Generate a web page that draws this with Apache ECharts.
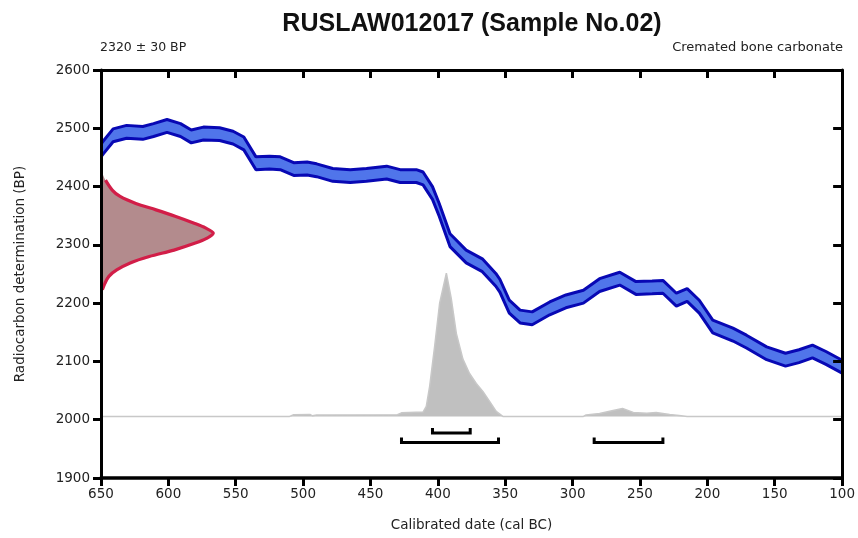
<!DOCTYPE html>
<html><head><meta charset="utf-8">
<script src="https://cdn.jsdelivr.net/npm/echarts@6/dist/echarts.min.js"></script>
<style>html,body{margin:0;padding:0;background:#fff}#c{width:858px;height:538px}</style>
</head><body><div id="c"></div>
<script>
// ---- data ----
const xTickValues = [650, 600, 550, 500, 450, 400, 350, 300, 250, 200, 150, 100];
const yTickValues = [2600, 2500, 2400, 2300, 2200, 2100, 2000, 1900];

// calibration curve centre (cal BC, BP)
const curveYears = [650, 648, 641, 631, 619, 611, 601, 591, 583, 574, 562, 552, 544, 535, 525, 517, 507, 497, 490, 478, 465, 453, 438, 428, 416, 411, 404, 399, 391, 379, 367, 357, 354, 347, 339, 330, 317, 305, 292, 280, 265, 253, 241, 233, 223, 215, 206, 196, 181, 171, 156, 142, 132, 122, 112, 100];
const curveBP    = [2462, 2468, 2488, 2494, 2492, 2497, 2504, 2497, 2486, 2491, 2490, 2484, 2474, 2440, 2441, 2440, 2430, 2431, 2428, 2420, 2418, 2420, 2424, 2418, 2418, 2414, 2389, 2360, 2308, 2280, 2265, 2240, 2230, 2194, 2177, 2174, 2191, 2203, 2211, 2231, 2242, 2226, 2227, 2228, 2206, 2214, 2194, 2160, 2146, 2134, 2114, 2103, 2109, 2117, 2106, 2091];
const curveSigma = 11;

// radiocarbon determination 2320 ± 30 BP (relative density)
const gaussBP      = [2425, 2411, 2394, 2383, 2371, 2360, 2349, 2337, 2329, 2320, 2311, 2303, 2291, 2280, 2269, 2257, 2246, 2234, 2223, 2215];
const gaussDensity = [0,    0.04, 0.10, 0.17, 0.31, 0.49, 0.66, 0.83, 0.93, 1.00, 0.94, 0.84, 0.65, 0.43, 0.26, 0.14, 0.07, 0.035, 0.012, 0];

// calibrated probability (relative)
const probYears  = [650, 510, 507, 495, 493, 490, 430, 427, 411, 408.6, 406.1, 402.4, 398.7, 393.7, 390, 386.3, 381.4, 376.5, 371.5, 366.6, 361.6, 356.7, 351.8, 292, 290, 280, 270, 263, 255, 245, 238, 228, 221, 215, 100];
const probValues = [0,   0,   0.012, 0.014, 0.004, 0.01, 0.012, 0.025, 0.03, 0.07, 0.21, 0.49, 0.79, 1.0, 0.82, 0.58, 0.40, 0.30, 0.23, 0.175, 0.105, 0.035, 0, 0, 0.01, 0.021, 0.042, 0.056, 0.028, 0.023, 0.028, 0.014, 0.007, 0, 0];

// ranges (cal BC)
const range68 = [[404, 376]];
const range95 = [[427, 355], [284, 233]];

// ---- layout / style ----
const FONT = "'Liberation Sans', Arial, sans-serif";
const FONT2 = "'DejaVu Sans', 'Liberation Sans', sans-serif";
const RANGE_LEVEL = {r68: 1977, r95: 1961};
const BLUE_LINE = '#0808b4', BLUE_FILL = '#5075ea';

const xMin = Math.min(...xTickValues), xMax = Math.max(...xTickValues), xInt = xTickValues[0] - xTickValues[1];
const yMin = Math.min(...yTickValues), yMax = Math.max(...yTickValues), yInt = yTickValues[0] - yTickValues[1];

const upper = curveYears.map((x, i) => [x, curveBP[i] + curveSigma]);
const lower = curveYears.map((x, i) => [x, curveBP[i] - curveSigma]);
const rangeData = range68.map(r => [r[0], r[1], RANGE_LEVEL.r68]).concat(range95.map(r => [r[0], r[1], RANGE_LEVEL.r95]));

const chart = echarts.init(document.getElementById('c'), null, {renderer: 'canvas'});
chart.setOption({
  animation: false,
  backgroundColor: '#fff',
  title: [
    {text: 'RUSLAW012017 (Sample No.02)', left: 467, top: 7, textAlign: 'center',
     textStyle: {fontFamily: FONT, fontSize: 25, fontWeight: 'bold', color: '#111'}},
    {text: '2320 ± 30 BP', left: 95, top: 36,
     textStyle: {fontFamily: FONT2, fontSize: 12.5, fontWeight: 'normal', color: '#222'}},
    {text: 'Cremated bone carbonate', right: 10, top: 36,
     textStyle: {fontFamily: FONT2, fontSize: 13, fontWeight: 'normal', color: '#222'}}
  ],
  grid: {left: 101, right: 15, top: 70, bottom: 60, containLabel: false},
  xAxis: [
    {type: 'value', min: xMin, max: xMax, interval: xInt, inverse: true, position: 'bottom', z: 5,
     name: 'Calibrated date (cal BC)', nameLocation: 'middle', nameGap: 40,
     nameTextStyle: {fontFamily: FONT2, fontSize: 13.5, color: '#222'},
     axisLine: {onZero: false, lineStyle: {color: '#000', width: 3.5}},
     axisTick: {inside: false, length: 8, lineStyle: {color: '#000', width: 3}},
     axisLabel: {margin: 9, fontFamily: FONT2, fontSize: 13.5, color: '#222', formatter: v => String(v)},
     splitLine: {show: false}},
    {type: 'value', min: xMin, max: xMax, interval: xInt, inverse: true, position: 'top', z: 5,
     axisLine: {onZero: false, lineStyle: {color: '#000', width: 3}},
     axisTick: {inside: true, length: 8, lineStyle: {color: '#000', width: 3}},
     axisLabel: {show: false}, splitLine: {show: false}},
    {type: 'value', min: 0, max: 6.6, show: false, position: 'top',
     axisLine: {onZero: false}, splitLine: {show: false}}
  ],
  yAxis: [
    {type: 'value', min: yMin, max: yMax, interval: yInt, position: 'left', z: 5,
     name: 'Radiocarbon determination (BP)', nameLocation: 'middle', nameGap: 74,
     nameTextStyle: {fontFamily: FONT2, fontSize: 13.5, color: '#222'},
     axisLine: {show: true, onZero: false, lineStyle: {color: '#000', width: 3}},
     axisTick: {show: true, inside: false, length: 8, lineStyle: {color: '#000', width: 3}},
     axisLabel: {margin: 11, fontFamily: FONT2, fontSize: 13.5, color: '#222', formatter: v => String(v)},
     splitLine: {show: false}},
    {type: 'value', min: yMin, max: yMax, interval: yInt, position: 'right', z: 5,
     axisLine: {show: true, onZero: false, lineStyle: {color: '#000', width: 3}},
     axisTick: {show: true, inside: true, length: 9, lineStyle: {color: '#000', width: 3}},
     axisLabel: {show: false}, splitLine: {show: false}},
    {type: 'value', min: -0.43, max: 2.419, show: false, position: 'right',
     axisLine: {onZero: false}, splitLine: {show: false}}
  ],
  series: [
    // calibrated probability
    {type: 'line', xAxisIndex: 0, yAxisIndex: 2, symbol: 'none', z: 1,
     data: probYears.map((x, i) => [x, probValues[i]]),
     lineStyle: {color: '#c8c8c8', width: 1.5},
     areaStyle: {color: '#c0c0c0', opacity: 1, origin: 0}},
    // calibration curve band fill
    {type: 'custom', xAxisIndex: 0, yAxisIndex: 0, z: 2,
     data: curveYears.map((x, i) => [x, curveBP[i]]),
     renderItem: function (params, api) {
       if (params.dataIndex !== 0) return null;
       const pts = [];
       for (let i = 0; i < upper.length; i++) pts.push(api.coord(upper[i]));
       for (let i = lower.length - 1; i >= 0; i--) pts.push(api.coord(lower[i]));
       return {type: 'polygon', shape: {points: pts}, style: {fill: BLUE_FILL, stroke: null}};
     }},
    {type: 'line', xAxisIndex: 0, yAxisIndex: 0, symbol: 'none', z: 3, data: upper,
     lineStyle: {color: BLUE_LINE, width: 3}},
    {type: 'line', xAxisIndex: 0, yAxisIndex: 0, symbol: 'none', z: 3, data: lower,
     lineStyle: {color: BLUE_LINE, width: 3}},
    // radiocarbon determination distribution
    {type: 'custom', xAxisIndex: 2, yAxisIndex: 0, z: 3,
     data: gaussBP.map((b, i) => [gaussDensity[i], b]),
     renderItem: function (params, api) {
       if (params.dataIndex !== 0) return null;
       const pts = gaussBP.map((b, i) => api.coord([gaussDensity[i], b]));
       return {type: 'group', children: [
         {type: 'polygon', shape: {points: pts, smooth: 0.3}, style: {fill: '#b38b8d', stroke: null}},
         {type: 'polyline', shape: {points: pts.slice(1, pts.length - 1), smooth: 0.3}, style: {fill: null, stroke: '#d21e48', lineWidth: 3.2}}
       ]};
     }},
    // ranges
    {type: 'custom', xAxisIndex: 0, yAxisIndex: 0, z: 3,
     data: rangeData,
     renderItem: function (params, api) {
       const a = api.coord([api.value(0), api.value(2)]);
       const b = api.coord([api.value(1), api.value(2)]);
       return {type: 'polyline', shape: {points: [[a[0], a[1] - 5], a, b, [b[0], b[1] - 5]]},
               style: {fill: null, stroke: '#000', lineWidth: 3}};
     }}
  ]
});
</script></body></html>
